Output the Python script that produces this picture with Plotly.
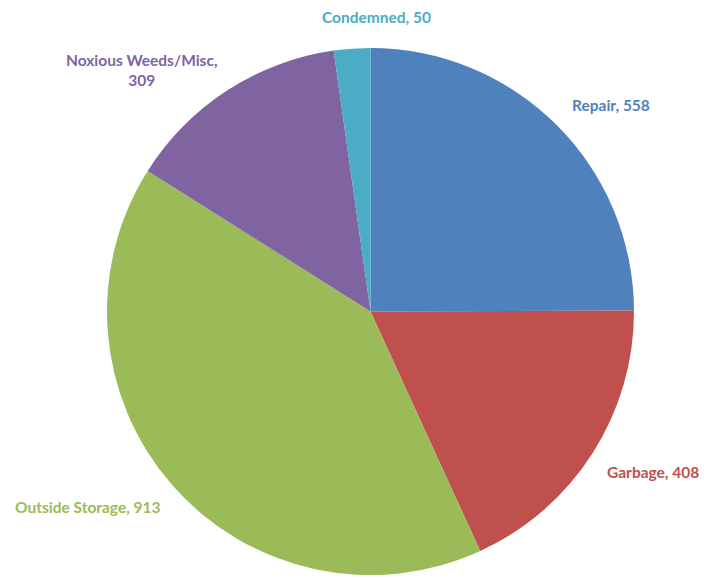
import plotly.graph_objects as go

categories = ["Repair", "Garbage", "Outside Storage", "Noxious Weeds/Misc", "Condemned"]
values = [558, 408, 913, 309, 50]
colors = ["#4F81BD", "#C0504D", "#9BBB59", "#8064A2", "#4BACC6"]
label_text = ["Repair, 558", "Garbage, 408", "Outside Storage, 913",
              "Noxious Weeds/Misc,<br>309", "Condemned, 50"]
# label centers in page pixels (x, y)
label_pos = [(611, 105), (653, 472), (88, 507), (142, 70), (376, 17)]

W, H = 704, 578

def px_x(x):
    return x / W

def px_y(y):
    return 1 - y / H

fig = go.Figure(go.Pie(
    labels=categories,
    values=values,
    marker=dict(colors=colors, line=dict(width=0)),
    sort=False,
    direction="clockwise",
    rotation=0,
    textinfo="none",
    hoverinfo="label+value",
    showlegend=False,
    domain=dict(x=[px_x(107), px_x(634)], y=[px_y(575), px_y(48)]),
))

for txt, (px, py), c in zip(label_text, label_pos, colors):
    fig.add_annotation(
        x=px_x(px), y=px_y(py), xref="paper", yref="paper",
        text=f"<b>{txt}</b>", showarrow=False,
        xanchor="center", yanchor="middle", align="center",
        font=dict(family="Lato, Open Sans, sans-serif", size=15.5, color=c),
    )

fig.update_layout(
    width=W, height=H,
    margin=dict(l=0, r=0, t=0, b=0),
    paper_bgcolor="white",
    plot_bgcolor="white",
)

fig.write_html(
    "out.html",
    config={"displayModeBar": False},
    post_script="document.body.style.margin='0';document.body.style.overflow='hidden';",
)
